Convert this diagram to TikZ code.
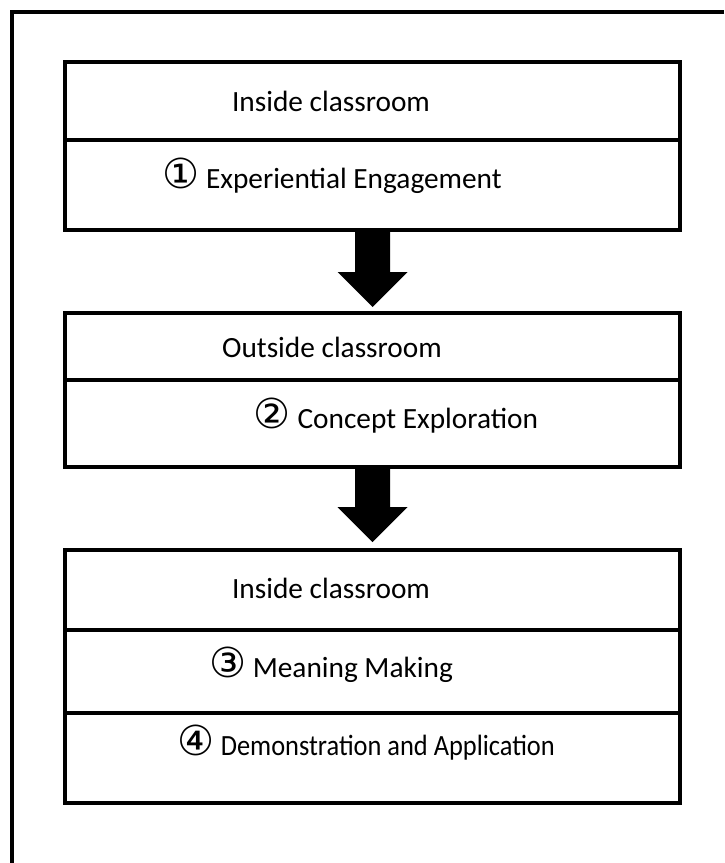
\documentclass[tikz,border=0pt]{standalone}
\usepackage{fontspec}
\usepackage{graphicx}
\setmainfont{Carlito}
\newfontfamily\circfont{DejaVu Sans}
\usetikzlibrary{calc}
\newcommand{\cnum}[1]{{\circfont\fontsize{31}{32}\selectfont #1}}
\begin{document}
\begin{tikzpicture}[x=0.75pt,y=-0.75pt,
  row/.style={draw,line width=3pt,minimum width=461.25pt,inner sep=0pt,outer sep=0pt},
  lbl/.style={font=\fontsize{22}{26}\selectfont,anchor=base,inner sep=0pt},
  blockarrow/.style={fill=black}]
\useasboundingbox (0,0) rectangle (724,863);
\draw[line width=3pt] (724,12) -- (12,12) -- (12,863);
% box 1
\node[row,minimum height=58.5pt] (b1a) at (372.5,101) {};
\node[row,minimum height=67.5pt] (b1b) at (372.5,185) {};
% box 2
\node[row,minimum height=50.25pt] (b2a) at (372.5,346.5) {};
\node[row,minimum height=65.25pt] (b2b) at (372.5,423.5) {};
% box 3
\node[row,minimum height=60pt] (b3a) at (372.5,590) {};
\node[row,minimum height=62.25pt] (b3b) at (372.5,671.5) {};
\node[row,minimum height=67.5pt] (b3c) at (372.5,758) {};
% texts
\node[lbl] (t1a) at (331,112) {Inside classroom};
\node[lbl] (t1b) at (332,188) {\cnum{①} Experiential Engagement};
\node[lbl] (t2a) at (332,357) {Outside classroom};
\node[lbl] (t2b) at (396,428) {\cnum{②} Concept Exploration};
\node[lbl] (t3a) at (331,598) {Inside classroom};
\node[lbl] (t3b) at (331,677) {\cnum{③} Meaning Making};
\node[lbl] (t3c) at (366,755) {\cnum{④} \scalebox{0.9}[1]{Demonstration and Application}};
% arrows
\fill[blockarrow] (b1b.south) ++(-17.5,0) -- ++(0,42) -- ++(-17.5,0) -- ++(35,35) -- ++(35,-35) -- ++(-17.5,0) -- ++(0,-42) -- cycle;
\fill[blockarrow] (b2b.south) ++(-17.5,0) -- ++(0,40) -- ++(-17.5,0) -- ++(35,35) -- ++(35,-35) -- ++(-17.5,0) -- ++(0,-40) -- cycle;
\end{tikzpicture}
\end{document}
